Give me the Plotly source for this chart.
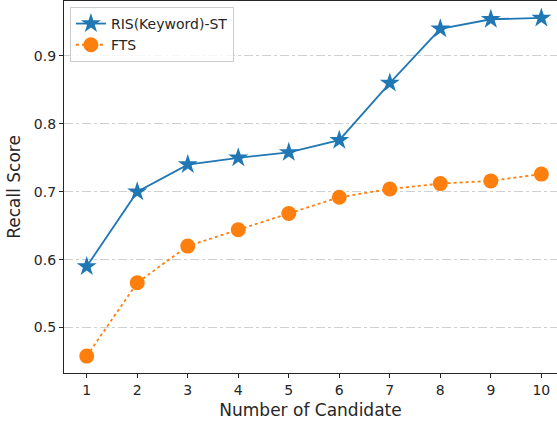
import plotly.graph_objects as go

candidates = [1, 2, 3, 4, 5, 6, 7, 8, 9, 10]
ris_keyword_st = [0.590, 0.700, 0.740, 0.750, 0.758, 0.776, 0.860, 0.940, 0.954, 0.956]
fts = [0.458, 0.566, 0.620, 0.644, 0.668, 0.692, 0.704, 0.712, 0.716, 0.726]
y_ticks = [0.5, 0.6, 0.7, 0.8, 0.9]

font = "DejaVu Sans"
fig = go.Figure()
fig.add_trace(go.Scatter(
    x=candidates, y=ris_keyword_st, name="RIS(Keyword)-ST", mode="lines+markers",
    line=dict(color="#1f77b4", width=1.8),
    marker=dict(symbol="star", size=15, color="#1f77b4", line=dict(width=0)),
))
fig.add_trace(go.Scatter(
    x=candidates, y=fts, name="FTS", mode="lines+markers",
    line=dict(color="#ff7f0e", width=1.8, dash="dot"),
    marker=dict(symbol="circle", size=15, color="#ff7f0e", line=dict(width=0)),
))

axis_common = dict(
    showline=True, linecolor="#262626", linewidth=1.2, mirror=True,
    ticks="outside", ticklen=4, tickwidth=1.1, tickcolor="#262626",
    tickfont=dict(family=font, size=14, color="#262626"),
    zeroline=False, automargin=False,
)
fig.update_xaxes(
    range=[0.55, 10.31], tickvals=candidates, showgrid=False,
    title=dict(text="Number of Candidate", font=dict(family=font, size=17, color="#262626"), standoff=7),
    **axis_common,
)
fig.update_yaxes(
    range=[0.4331, 0.9809], tickvals=y_ticks, ticktext=[f"{v:.1f}" for v in y_ticks],
    showgrid=True, gridcolor="#d0d0d0", griddash="dashdot", gridwidth=1.1,
    title=dict(text="Recall Score", font=dict(family=font, size=17, color="#262626"), standoff=8),
    **axis_common,
)
fig.update_layout(
    width=557, height=424,
    margin=dict(l=64, r=0, t=1, b=51),
    plot_bgcolor="white", paper_bgcolor="white",
    font=dict(family=font, size=14, color="#262626"),
    legend=dict(
        x=0.012, y=0.984, xanchor="left", yanchor="top",
        bgcolor="rgba(255,255,255,0.8)", bordercolor="#cccccc", borderwidth=1,
        font=dict(family=font, size=14, color="#262626"),
        itemwidth=30, tracegroupgap=0,
    ),
    showlegend=True,
)
fig.write_html(
    "out.html",
    config={"displayModeBar": False},
    post_script="document.body.style.margin='0';document.body.style.padding='0';",
)
